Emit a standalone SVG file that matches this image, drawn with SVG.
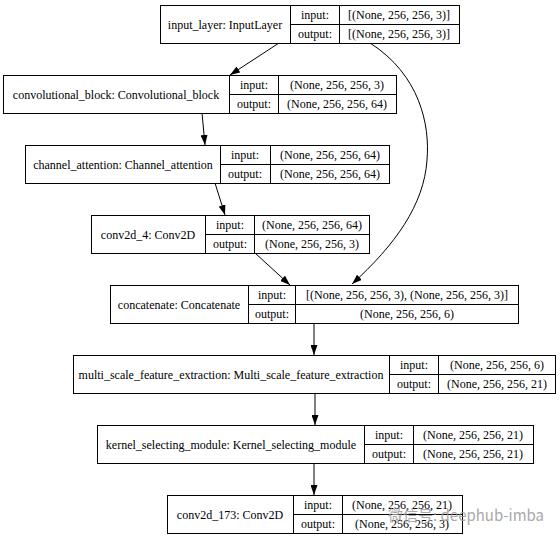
<svg xmlns="http://www.w3.org/2000/svg" width="560" height="539" viewBox="0 0 560 539">
<defs>
<style>
.box{fill:#fff;stroke:#000;stroke-width:1}
.ln{fill:none;stroke:#000;stroke-width:1}
text{font-family:"Liberation Serif","Times New Roman",serif;font-size:12px;fill:#000;text-anchor:middle}
.wm{font-family:"Noto Sans CJK SC","DejaVu Sans",sans-serif;font-size:15px;fill:#9a9a9a;text-anchor:start;opacity:0.85}
.edge{fill:none;stroke:#000;stroke-width:1;marker-end:url(#arr)}
</style>
<marker id="arr" markerWidth="10" markerHeight="7" refX="10" refY="3.5" orient="auto" markerUnits="userSpaceOnUse">
<path d="M0,0 L10,3.5 L0,7 z" fill="#000"/>
</marker>
</defs>
<rect width="560" height="539" fill="#fff"/>
<g id="connectors">
<path class="edge" d="M279,43 L230,75"/>
<path class="edge" d="M370,43 C420,75 430,125 427,160 C424,205 395,245 352,284"/>
<path class="edge" d="M202,113 L205,145"/>
<path class="edge" d="M215,183 L225,215"/>
<path class="edge" d="M255,253 L290,285"/>
<path class="edge" d="M314,323 L314,355"/>
<path class="edge" d="M315,393 L315,425"/>
<path class="edge" d="M314,463 L314,495"/>
</g>
<g id="input_layer">
<rect class="box" x="160.5" y="5.5" width="299" height="38"/>
<path class="ln" d="M290.5,5.5 V43.5 M339.5,5.5 V43.5 M290.5,24.5 H459.5"/>
<text x="225" y="28.5">input_layer: InputLayer</text>
<text x="315" y="19">input:</text>
<text x="315" y="38">output:</text>
<text x="399" y="19">[(None, 256, 256, 3)]</text>
<text x="399" y="38">[(None, 256, 256, 3)]</text>
</g>
<g id="convolutional_block">
<rect class="box" x="3.5" y="75.5" width="393" height="38"/>
<path class="ln" d="M229.5,75.5 V113.5 M278.5,75.5 V113.5 M229.5,94.5 H396.5"/>
<text x="116" y="98.5">convolutional_block: Convolutional_block</text>
<text x="254" y="89">input:</text>
<text x="254" y="108">output:</text>
<text x="337" y="89">(None, 256, 256, 3)</text>
<text x="337" y="108">(None, 256, 256, 64)</text>
</g>
<g id="channel_attention">
<rect class="box" x="25.5" y="145.5" width="364" height="38"/>
<path class="ln" d="M220.5,145.5 V183.5 M270.5,145.5 V183.5 M220.5,164.5 H389.5"/>
<text x="123" y="168.5">channel_attention: Channel_attention</text>
<text x="245" y="159">input:</text>
<text x="245" y="178">output:</text>
<text x="330" y="159">(None, 256, 256, 64)</text>
<text x="330" y="178">(None, 256, 256, 64)</text>
</g>
<g id="conv2d_4">
<rect class="box" x="91.5" y="215.5" width="278" height="38"/>
<path class="ln" d="M205.5,215.5 V253.5 M254.5,215.5 V253.5 M205.5,234.5 H369.5"/>
<text x="148" y="238.5">conv2d_4: Conv2D</text>
<text x="230" y="229">input:</text>
<text x="230" y="248">output:</text>
<text x="312" y="229">(None, 256, 256, 64)</text>
<text x="312" y="248">(None, 256, 256, 3)</text>
</g>
<g id="concatenate">
<rect class="box" x="110.5" y="285.5" width="408" height="38"/>
<path class="ln" d="M248.5,285.5 V323.5 M295.5,285.5 V323.5 M248.5,304.5 H518.5"/>
<text x="179" y="308.5">concatenate: Concatenate</text>
<text x="272" y="299">input:</text>
<text x="272" y="318">output:</text>
<text x="407" y="299">[(None, 256, 256, 3), (None, 256, 256, 3)]</text>
<text x="407" y="318">(None, 256, 256, 6)</text>
</g>
<g id="multi_scale_feature_extraction">
<rect class="box" x="73.5" y="355.5" width="482" height="38"/>
<path class="ln" d="M389.5,355.5 V393.5 M438.5,355.5 V393.5 M389.5,374.5 H555.5"/>
<text x="231" y="378.5">multi_scale_feature_extraction: Multi_scale_feature_extraction</text>
<text x="414" y="369">input:</text>
<text x="414" y="388">output:</text>
<text x="497" y="369">(None, 256, 256, 6)</text>
<text x="497" y="388">(None, 256, 256, 21)</text>
</g>
<g id="kernel_selecting_module">
<rect class="box" x="97.5" y="425.5" width="436" height="38"/>
<path class="ln" d="M364.5,425.5 V463.5 M413.5,425.5 V463.5 M364.5,444.5 H533.5"/>
<text x="231" y="448.5">kernel_selecting_module: Kernel_selecting_module</text>
<text x="389" y="439">input:</text>
<text x="389" y="458">output:</text>
<text x="473" y="439">(None, 256, 256, 21)</text>
<text x="473" y="458">(None, 256, 256, 21)</text>
</g>
<g id="conv2d_173">
<rect class="box" x="167.5" y="495.5" width="295" height="38"/>
<path class="ln" d="M293.5,495.5 V533.5 M342.5,495.5 V533.5 M293.5,514.5 H462.5"/>
<text x="230" y="518.5">conv2d_173: Conv2D</text>
<text x="318" y="509">input:</text>
<text x="318" y="528">output:</text>
<text x="402" y="509">(None, 256, 256, 21)</text>
<text x="402" y="528">(None, 256, 256, 3)</text>
</g>
<text class="wm" x="388" y="521">微信号: deephub-imba</text>
</svg>
